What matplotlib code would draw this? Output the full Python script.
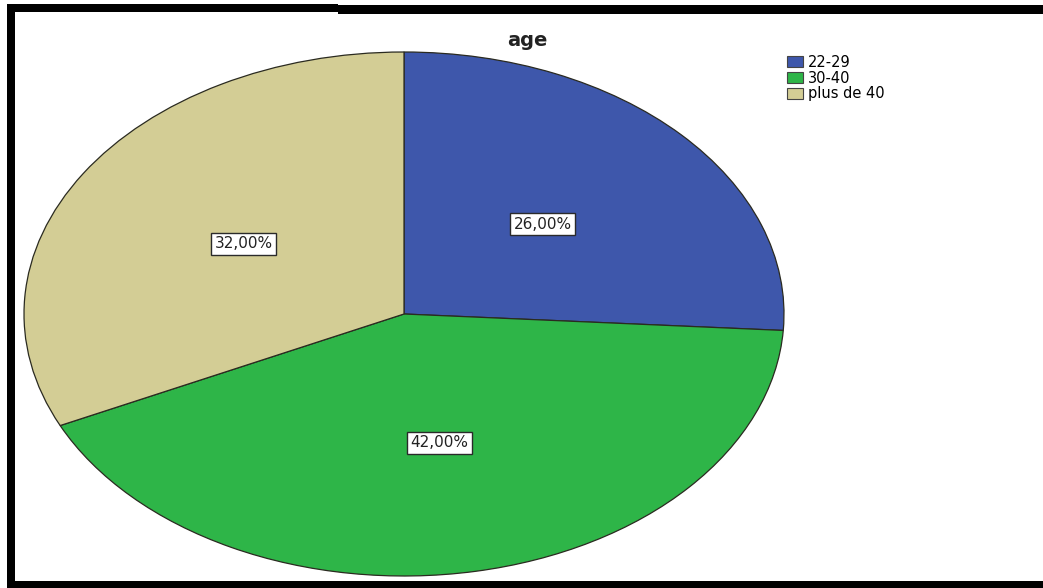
import matplotlib
matplotlib.use("Agg")
import matplotlib.pyplot as plt
from matplotlib.patches import Rectangle, Patch

# Age groups and their shares (percent)
categories = ["22-29", "30-40", "plus de 40"]
shares = [26, 42, 32]
colors = ["#3E57AB", "#2EB548", "#D3CD95"]
title = "age"

W, H = 1043, 588
fig = plt.figure(figsize=(W / 100, H / 100), dpi=100)
fig.patch.set_facecolor("white")


def px(x0, y0, x1, y1):
    """Convert a pixel box (top-left origin) to figure fractions."""
    return [x0 / W, 1 - y1 / H, (x1 - x0) / W, (y1 - y0) / H]


# Pie axes: the pie is stretched horizontally into an ellipse
ax = fig.add_axes(px(24, 52, 784, 576))
wedges, texts, autotexts = ax.pie(
    shares,
    colors=colors,
    startangle=90,
    counterclock=False,
    autopct=lambda p: f"{p:.2f}".replace(".", ",") + "%",
    pctdistance=0.5,
    wedgeprops=dict(edgecolor="#2a2a20", linewidth=0.9),
    textprops=dict(fontsize=11, family="DejaVu Sans", color="#222222"),
)
for t in autotexts:
    t.set_bbox(dict(boxstyle="square,pad=0.22", facecolor="white",
                    edgecolor="#2a2a2a", linewidth=1.0))
ax.set_aspect("auto")
ax.set_xlim(-1, 1)
ax.set_ylim(-1, 1)
ax.axis("off")

# Title
fig.text(527 / W, 1 - 40 / H, title, ha="center", va="center",
         fontsize=14, fontweight="bold", family="DejaVu Sans", color="#222222")

# Legend
handles = [Patch(facecolor=c, edgecolor="#444444", linewidth=0.8) for c in colors]
fig.legend(handles, categories, loc="upper left",
           bbox_to_anchor=(784 / W, 1 - 52 / H), frameon=False,
           fontsize=10.5, prop=dict(family="DejaVu Sans", size=10.5),
           handlelength=1.1, handleheight=0.75, handletextpad=0.35,
           labelspacing=0.05, borderpad=0.2, borderaxespad=0.0)

# Black frame bars
for box in [(7, 4, 15, 588), (7, 4, 338, 12), (338, 5, 1043, 14), (7, 581, 1043, 588)]:
    x, y, w, h = px(*box)
    fig.add_artist(Rectangle((x, y), w, h, transform=fig.transFigure,
                             facecolor="black", edgecolor="none"))

fig.savefig("out.png", dpi=100, facecolor="white")
